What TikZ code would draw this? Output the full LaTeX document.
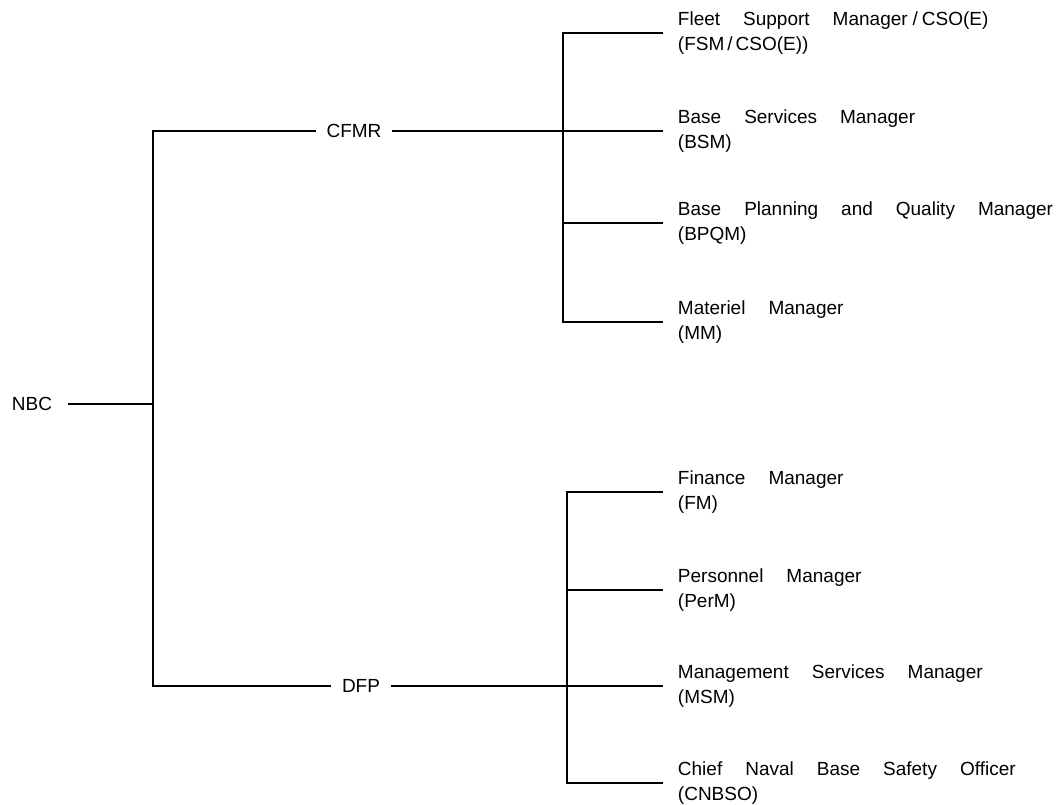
\documentclass[tikz,border=0pt]{standalone}
\usepackage{fontspec}
\setmainfont{Liberation Sans}
\usetikzlibrary{positioning}

\tikzset{
  head/.style={inner xsep=10pt, inner ysep=0pt},
  post/.style={anchor=west, align=left, inner xsep=14pt, inner ysep=0pt,
    font={\fontsize{19}{25}\selectfont\spaceskip=23pt\relax}}
}

\begin{document}
\begin{tikzpicture}[x=1pt, y=-1pt, line width=1.9pt, every node/.style={font=\fontsize{19}{25}\selectfont}]
\useasboundingbox (0,0) rectangle (1059,804);
% Top of the chart
\node[head, inner xsep=15pt] (nbc) at (32,404) {NBC};
\coordinate (jtop) at (153,131);
\coordinate (jmid) at (153,404);
\coordinate (jbot) at (153,686);
\node[head] (cfmr) at (354,131) {CFMR};
\node[head] (dfp) at (361,686) {DFP};
\draw (nbc.east) -- (jmid);
\draw (cfmr.west) -- (jtop) -- (jbot) -- (dfp.west);

% CFMR branch
\node[post] (fsm) at (663,33) {Fleet Support Manager\hspace{5pt}/\hspace{4pt}CSO(E)\\(FSM\hspace{3pt}/\hspace{3pt}CSO(E))};
\node[post] (bsm) at (663,131) {Base Services Manager\\(BSM)};
\node[post] (bpqm) at (663,223) {Base Planning and Quality Manager\\(BPQM)};
\node[post] (mm) at (663,322) {Materiel Manager\\(MM)};
\coordinate (ctop) at (563,33);
\coordinate (cbot) at (563,322);
\draw (fsm.west) -- (ctop) -- (cbot) -- (mm.west);
\draw (cfmr.east) -- (bsm.west);
\draw (bpqm.west) -- (bpqm.west -| ctop);

% DFP branch
\node[post] (fm) at (663,492) {Finance Manager\\(FM)};
\node[post] (perm) at (663,590) {Personnel Manager\\(PerM)};
\node[post] (msm) at (663,686) {Management Services Manager\\(MSM)};
\node[post] (cnbso) at (663,783) {Chief Naval Base Safety Officer\\(CNBSO)};
\coordinate (dtop) at (567,492);
\coordinate (dbot) at (567,783);
\draw (fm.west) -- (dtop) -- (dbot) -- (cnbso.west);
\draw (dfp.east) -- (msm.west);
\draw (perm.west) -- (perm.west -| dtop);
\end{tikzpicture}
\end{document}
